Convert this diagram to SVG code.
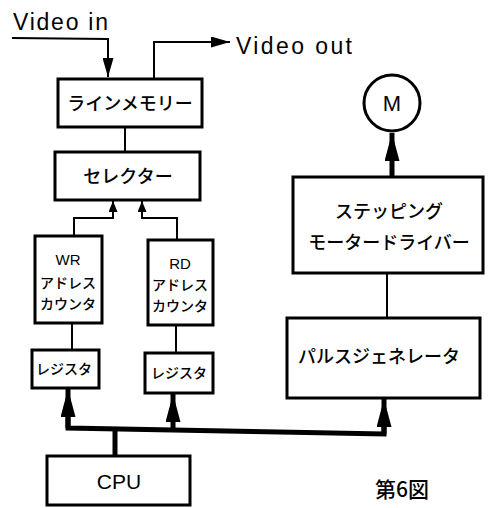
<svg xmlns="http://www.w3.org/2000/svg" width="493" height="508" viewBox="0 0 493 508">
<style>
.box{fill:#fff;stroke:#000;stroke-width:3}
.ln{fill:none;stroke:#000;stroke-width:2}
.bus{fill:none;stroke:#000;stroke-width:5;stroke-linejoin:miter}
.jp{font-family:"Noto Sans CJK JP","Noto Sans CJK SC",sans-serif;font-weight:500;fill:#000;text-anchor:middle}
.en{font-family:"Liberation Sans",Arial,sans-serif;fill:#000}
</style>
<defs>
<marker id="ah" viewBox="0 0 10 10" refX="10" refY="5" markerWidth="11" markerHeight="9" markerUnits="userSpaceOnUse" orient="auto" preserveAspectRatio="none">
<path d="M0,0 L10,5 L0,10 Z" fill="#000"/>
</marker>
<marker id="ahl" viewBox="0 0 10 10" refX="10" refY="5" markerWidth="19" markerHeight="11" markerUnits="userSpaceOnUse" orient="auto" preserveAspectRatio="none">
<path d="M0,0 L10,5 L0,10 Z" fill="#000"/>
</marker>
<marker id="ahb" viewBox="0 0 10 10" refX="10" refY="5" markerWidth="28" markerHeight="15" markerUnits="userSpaceOnUse" orient="auto" preserveAspectRatio="none">
<path d="M0,0 L10,5 L0,10 Z" fill="#000"/>
</marker>
</defs>

<text class="en" x="13" y="30" font-size="23" textLength="95" lengthAdjust="spacing">Video in</text>
<text class="en" x="236" y="54" font-size="23" textLength="116" lengthAdjust="spacing">Video out</text>

<g id="connectors">
<polyline class="ln" points="12,38 108,39 108,77" marker-end="url(#ahl)"/>
<polyline class="ln" points="154,78 154,42 230,42" marker-end="url(#ahl)"/>
<line class="ln" x1="125" y1="127" x2="125" y2="152"/>
<polyline class="ln" points="74,236 74,218 113,218 113,201" marker-end="url(#ah)"/>
<polyline class="ln" points="177,240 177,218 142,218 142,201" marker-end="url(#ah)"/>
<line class="ln" x1="72" y1="323" x2="72" y2="349"/>
<line class="ln" x1="176" y1="325" x2="176" y2="352"/>
<line class="ln" x1="387" y1="273" x2="387" y2="318"/>
<line class="bus" x1="392" y1="177" x2="392" y2="133" marker-end="url(#ahb)"/>
<polyline class="bus" points="68,400 68,428 384,434 384,410"/>
<line class="bus" x1="68" y1="428" x2="68" y2="389" marker-end="url(#ahb)"/>
<line class="bus" x1="173" y1="430" x2="173" y2="394" marker-end="url(#ahb)"/>
<line class="bus" x1="384" y1="434" x2="384" y2="399" marker-end="url(#ahb)"/>
<line class="bus" x1="115" y1="429" x2="115" y2="456"/>
</g>

<g id="line-memory">
<rect class="box" x="58" y="79" width="144" height="48"/>
<text class="jp" x="130" y="110" font-size="18">ラインメモリー</text>
</g>
<g id="selector">
<rect class="box" x="55" y="152" width="145" height="48"/>
<text class="jp" x="128" y="183" font-size="18">セレクター</text>
</g>
<g id="wr-counter">
<rect class="box" x="35" y="236" width="67" height="87"/>
<text class="en" x="68" y="265" font-size="15" text-anchor="middle">WR</text>
<text class="jp" x="68" y="288" font-size="14">アドレス</text>
<text class="jp" x="68" y="309" font-size="14">カウンタ</text>
</g>
<g id="rd-counter">
<rect class="box" x="148" y="240" width="65" height="85"/>
<text class="en" x="180" y="269" font-size="15" text-anchor="middle">RD</text>
<text class="jp" x="180" y="290" font-size="14">アドレス</text>
<text class="jp" x="180" y="311" font-size="14">カウンタ</text>
</g>
<g id="wr-register">
<rect class="box" x="32" y="350" width="67" height="38"/>
<text class="jp" x="64" y="374" font-size="14" font-weight="700">レジスタ</text>
</g>
<g id="rd-register">
<rect class="box" x="145" y="353" width="68" height="40"/>
<text class="jp" x="179" y="378" font-size="14" font-weight="700">レジスタ</text>
</g>
<g id="motor">
<circle cx="392" cy="103" r="28" fill="#fff" stroke="#000" stroke-width="3"/>
<text class="en" x="392" y="111" font-size="22" text-anchor="middle">M</text>
</g>
<g id="stepping-driver">
<rect class="box" x="293" y="177" width="190" height="96"/>
<text class="jp" x="389" y="218" font-size="18">ステッピング</text>
<text class="jp" x="389" y="249" font-size="18">モータードライバー</text>
</g>
<g id="pulse-generator">
<rect class="box" x="287" y="318" width="193" height="80"/>
<text class="jp" x="379" y="363" font-size="18">パルスジェネレータ</text>
</g>
<g id="cpu">
<rect class="box" x="47" y="456" width="143" height="49"/>
<text class="en" x="119" y="489" font-size="21" text-anchor="middle">CPU</text>
</g>
<text class="jp" x="402" y="497" font-size="21" font-weight="400">第6図</text>
</svg>
